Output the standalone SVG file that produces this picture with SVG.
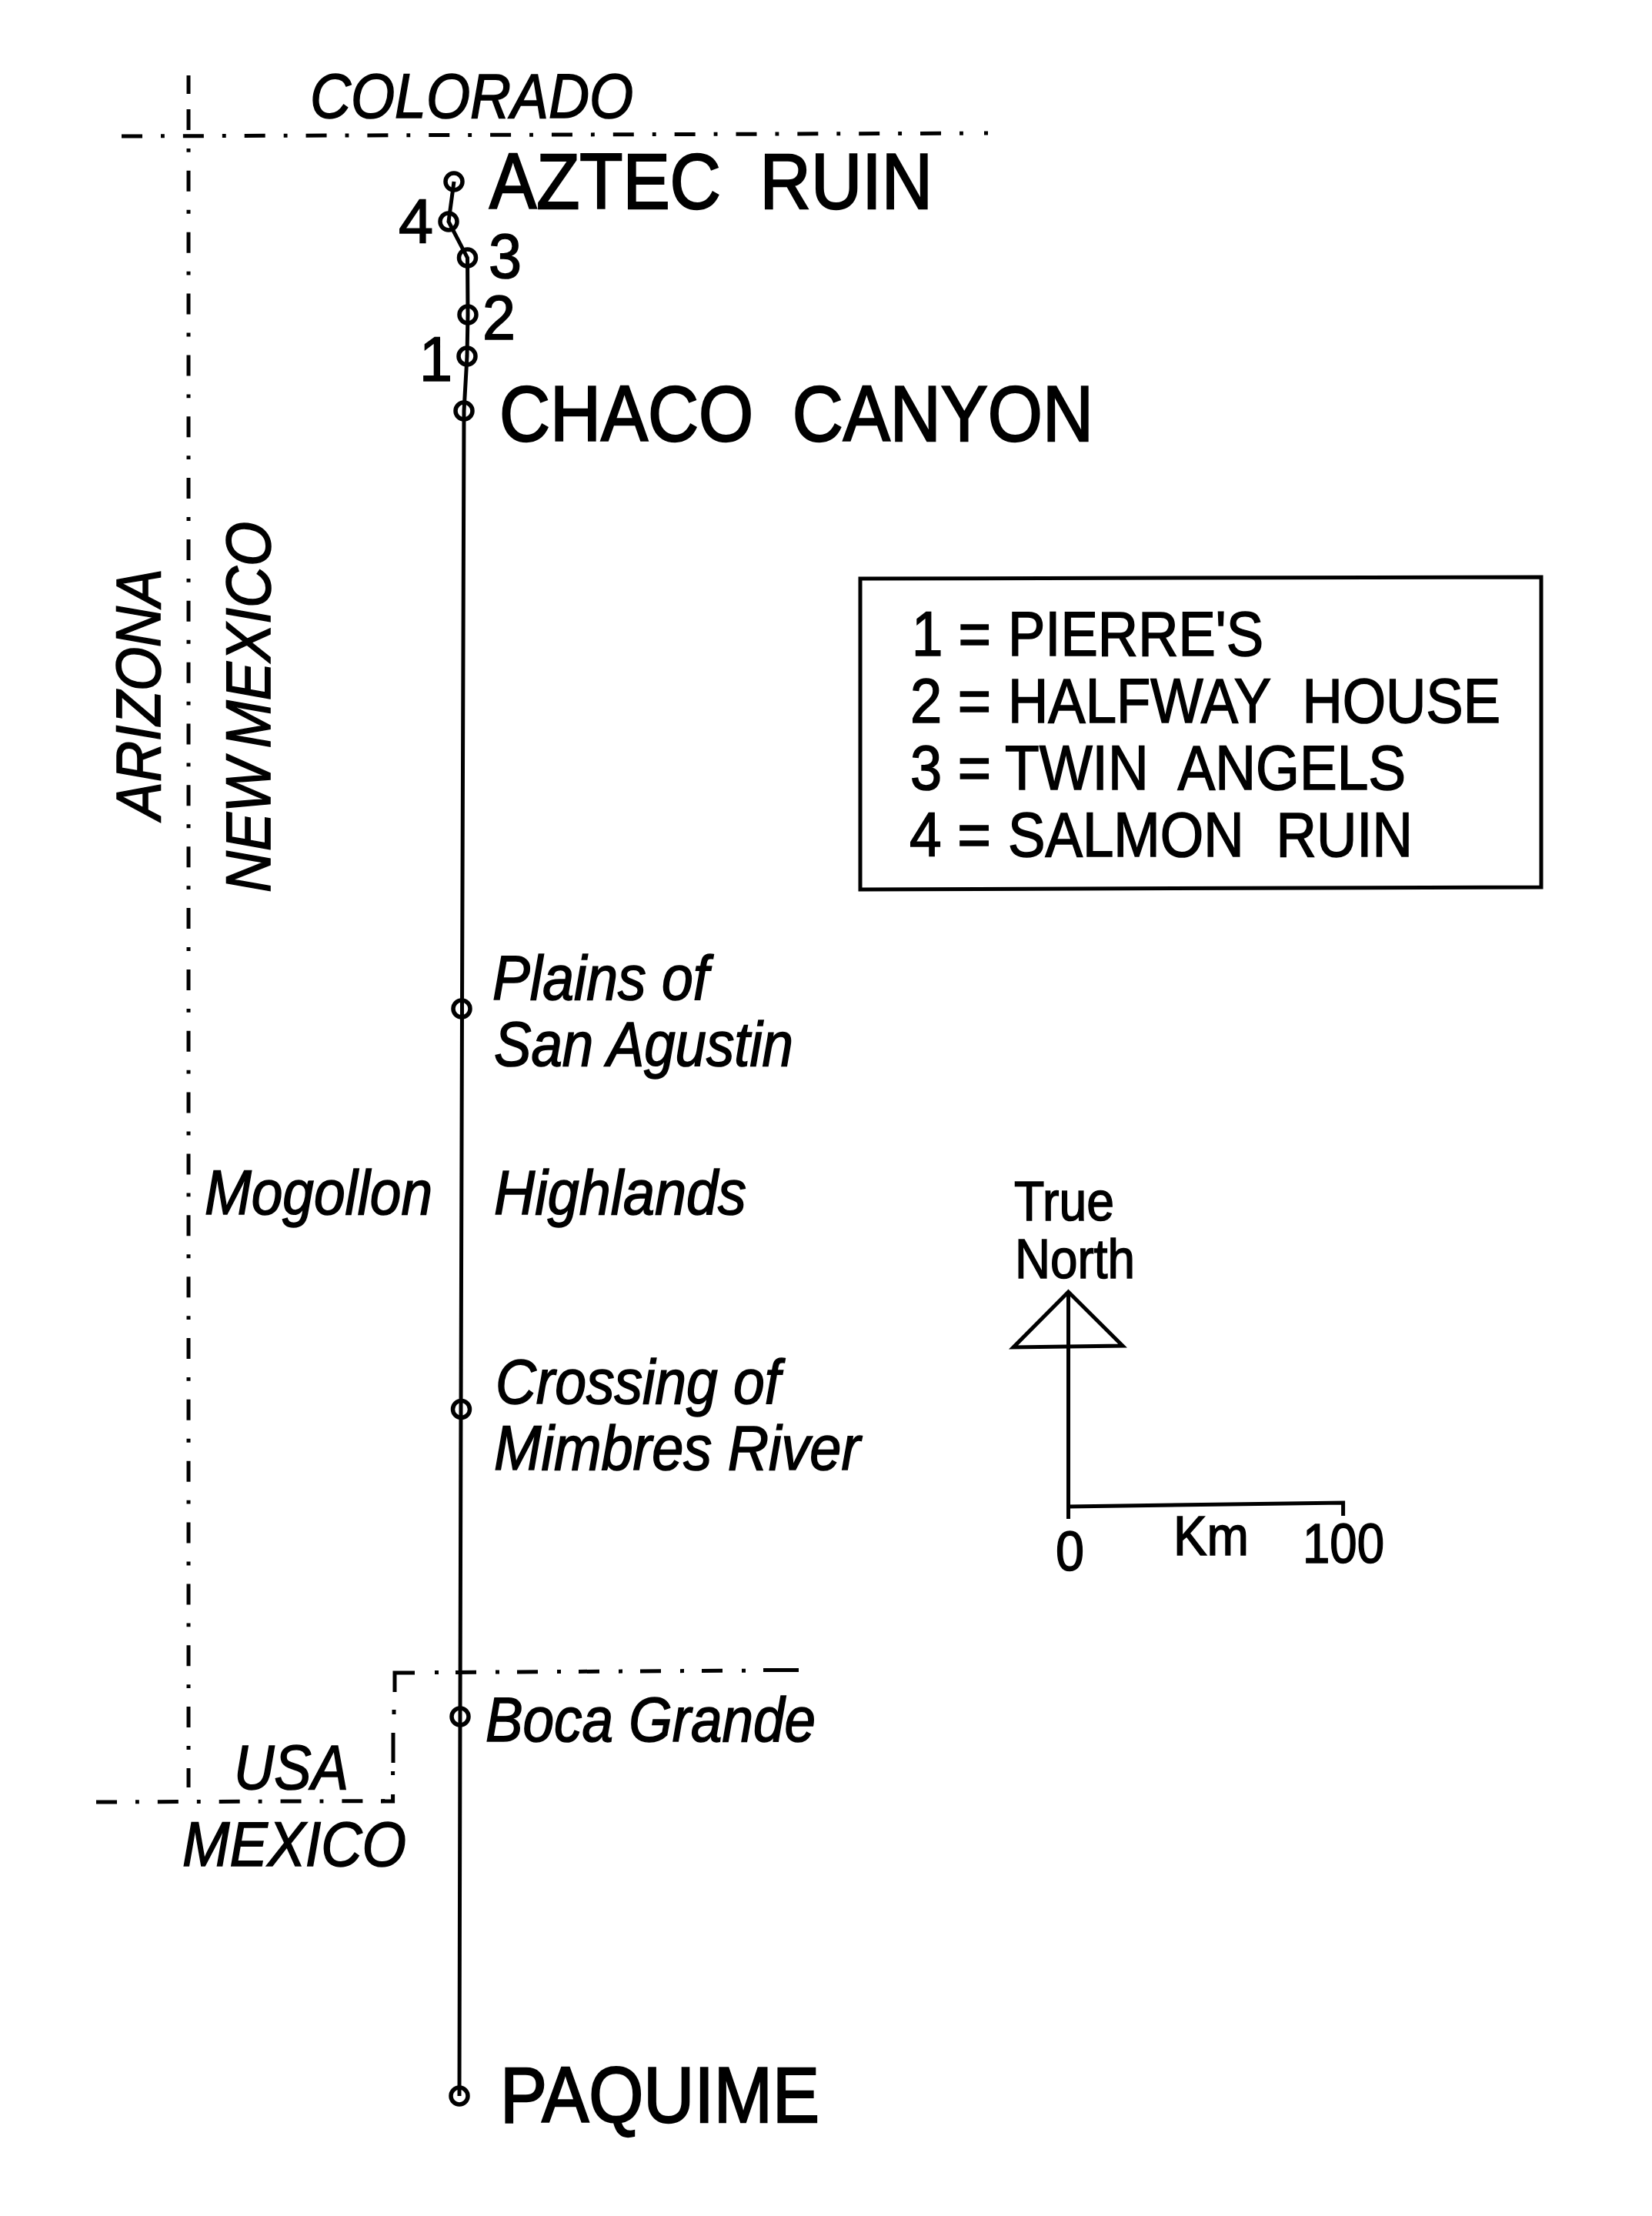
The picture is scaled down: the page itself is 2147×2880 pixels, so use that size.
<svg xmlns="http://www.w3.org/2000/svg" width="2147" height="2880" viewBox="0 0 2147 2880">
<style>
text{font-family:"Liberation Sans",Arial,sans-serif;fill:#000;stroke:#000;stroke-width:1.6}
.i{font-style:italic}
.xl{font-size:102px;stroke-width:2.4}
.m{font-size:81px}
.s{font-size:73px}
.b{fill:none;stroke:#000;stroke-width:5}
.d{stroke-dasharray:27 24 4.85 24}
.l{fill:none;stroke:#000;stroke-width:5}
.n{fill:none;stroke:#000;stroke-width:5.5}
</style>
<rect width="2147" height="2880" fill="#fff"/>
<g id="borders">
<path class="b" d="M245 98V122"/>
<path class="b d" d="M245 142V2323"/>
<path class="b d" d="M158 177L1257 173.2"/>
<path class="b" d="M1279 173H1284"/>
<path class="b d" d="M125 2342L505 2340.6"/>
<path class="b" d="M495 2341H510.6V2332M510.6 2307V2302M511 2291V2252M512 2228V2222M513 2199V2174H539"/>
<path class="b d" d="M565 2173.6H570M592 2173.4L992 2171" style="stroke-dasharray:27 25 5 23"/>
<path class="b" d="M992 2170.4H1038"/>
</g>
<g id="connectors">
<polyline class="l" points="590,236 583,288 607.5,335 608,409 607,463 603,534 600.5,1311 599,1831 598,2231 597,2724"/>
<path class="l" d="M1388.5 1679V1974M1388.5 1958L1745.6 1953V1970"/>
</g>
<g id="aztec-ruin"><circle class="n" cx="590" cy="236" r="11"/><text class="xl" x="636" y="271" textLength="576" lengthAdjust="spacingAndGlyphs" word-spacing="28">AZTEC RUIN</text></g>
<g id="salmon-ruin"><circle class="n" cx="583" cy="288" r="11"/><text class="m" x="518" y="316" textLength="45" lengthAdjust="spacingAndGlyphs">4</text></g>
<g id="twin-angels"><circle class="n" cx="607.5" cy="335" r="11"/><text class="m" x="635" y="361" textLength="43" lengthAdjust="spacingAndGlyphs">3</text></g>
<g id="halfway-house"><circle class="n" cx="608" cy="409" r="11"/><text class="m" x="627" y="441" textLength="43" lengthAdjust="spacingAndGlyphs">2</text></g>
<g id="pierres"><circle class="n" cx="607" cy="463" r="11"/><text class="m" x="545" y="495" textLength="43" lengthAdjust="spacingAndGlyphs">1</text></g>
<g id="chaco-canyon"><circle class="n" cx="603" cy="534" r="11"/><text class="xl" x="649" y="573" textLength="772" lengthAdjust="spacingAndGlyphs" word-spacing="28">CHACO CANYON</text></g>
<g id="plains"><circle class="n" cx="600" cy="1311" r="11"/><text class="m i" x="640" y="1299" textLength="281" lengthAdjust="spacingAndGlyphs">Plains of</text><text class="m i" x="642" y="1385" textLength="389" lengthAdjust="spacingAndGlyphs">San Agustin</text></g>
<g id="crossing"><circle class="n" cx="599.5" cy="1831.5" r="11"/><text class="m i" x="644" y="1824" textLength="370" lengthAdjust="spacingAndGlyphs">Crossing of</text><text class="m i" x="642" y="1910" textLength="476" lengthAdjust="spacingAndGlyphs">Mimbres River</text></g>
<g id="boca-grande"><circle class="n" cx="598" cy="2231" r="11"/><text class="m i" x="631" y="2263" textLength="429" lengthAdjust="spacingAndGlyphs">Boca Grande</text></g>
<g id="paquime"><circle class="n" cx="597" cy="2724" r="11"/><text class="xl" x="650" y="2758" textLength="415" lengthAdjust="spacingAndGlyphs">PAQUIME</text></g>
<g id="regions">
<text class="m i" x="403" y="152.5" textLength="420" lengthAdjust="spacingAndGlyphs">COLORADO</text>
<text class="m i" transform="translate(208 1065) rotate(-90)" textLength="326" lengthAdjust="spacingAndGlyphs">ARIZONA</text>
<text class="m i" transform="translate(351 1160) rotate(-90)" textLength="482" lengthAdjust="spacingAndGlyphs" word-spacing="-8">NEW MEXICO</text>
<text class="m i" x="266" y="1578" textLength="296" lengthAdjust="spacingAndGlyphs">Mogollon</text>
<text class="m i" x="642" y="1578" textLength="328" lengthAdjust="spacingAndGlyphs">Highlands</text>
<text class="m i" x="304" y="2325" textLength="149" lengthAdjust="spacingAndGlyphs">USA</text>
<text class="m i" x="237" y="2424.5" textLength="291" lengthAdjust="spacingAndGlyphs">MEXICO</text>
</g>
<g id="legend">
<path class="b" d="M1118 752L2003 750V1153L1118 1156Z"/>
<text class="m" y="852"><tspan x="1185" textLength="103" lengthAdjust="spacingAndGlyphs">1 =</tspan> <tspan x="1310" textLength="332" lengthAdjust="spacingAndGlyphs">PIERRE'S</tspan></text>
<text class="m" y="939"><tspan x="1183" textLength="105" lengthAdjust="spacingAndGlyphs">2 =</tspan> <tspan x="1310" textLength="640" lengthAdjust="spacingAndGlyphs" word-spacing="24">HALFWAY HOUSE</tspan></text>
<text class="m" y="1026"><tspan x="1183" textLength="105" lengthAdjust="spacingAndGlyphs">3 =</tspan> <tspan x="1306" textLength="521" lengthAdjust="spacingAndGlyphs" word-spacing="24">TWIN ANGELS</tspan></text>
<text class="m" y="1113"><tspan x="1182" textLength="106" lengthAdjust="spacingAndGlyphs">4 =</tspan> <tspan x="1310" textLength="526" lengthAdjust="spacingAndGlyphs" word-spacing="24">SALMON RUIN</tspan></text>
</g>
<g id="north-arrow">
<path class="l" d="M1388.5 1679L1317 1751L1459 1749Z"/>
<text class="s" x="1318" y="1586" textLength="130" lengthAdjust="spacingAndGlyphs">True</text>
<text class="s" x="1319" y="1661" textLength="156" lengthAdjust="spacingAndGlyphs">North</text>
</g>
<g id="scale">
<text class="s" x="1372" y="2041" textLength="37" lengthAdjust="spacingAndGlyphs">0</text>
<text class="s" x="1525" y="2021" textLength="98" lengthAdjust="spacingAndGlyphs">Km</text>
<text class="s" x="1693" y="2031" textLength="106" lengthAdjust="spacingAndGlyphs">100</text>
</g>
</svg>
